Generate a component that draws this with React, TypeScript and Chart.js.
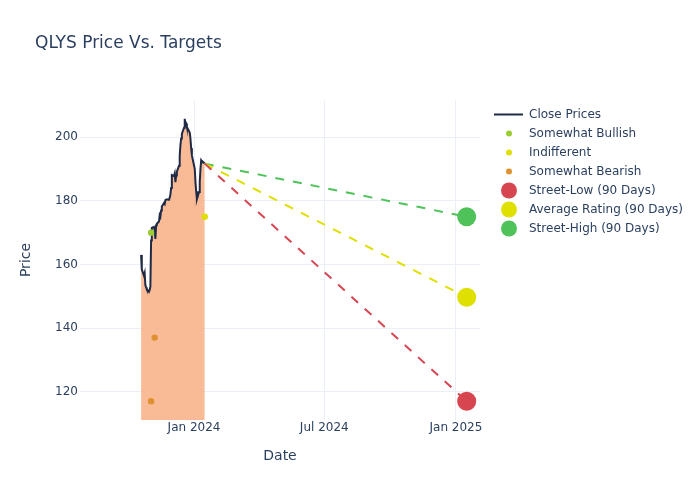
import React, { useEffect, useRef } from "react";
import { Chart, registerables } from "chart.js";

Chart.register(...registerables);

const FONT = '"DejaVu Sans", "Open Sans", Verdana, sans-serif';
const TEXT = "#2a3f5f";
const GRID = "#ebf0f8";

const chartTitle = "QLYS Price Vs. Targets";

const closeDates = [
  "2023-10-19", "2023-10-20", "2023-10-23", "2023-10-24", "2023-10-25", "2023-10-26", "2023-10-27",
  "2023-10-30", "2023-10-31", "2023-11-01", "2023-11-02", "2023-11-03", "2023-11-06", "2023-11-07",
  "2023-11-08", "2023-11-09", "2023-11-10", "2023-11-13", "2023-11-14", "2023-11-15", "2023-11-16",
  "2023-11-17", "2023-11-20", "2023-11-21", "2023-11-22", "2023-11-24", "2023-11-27", "2023-11-28",
  "2023-11-29", "2023-11-30", "2023-12-01", "2023-12-04", "2023-12-05", "2023-12-06", "2023-12-07",
  "2023-12-08", "2023-12-11", "2023-12-12", "2023-12-13", "2023-12-14", "2023-12-15", "2023-12-18",
  "2023-12-19", "2023-12-20", "2023-12-21", "2023-12-22", "2023-12-26", "2023-12-27", "2023-12-28",
  "2023-12-29", "2024-01-02", "2024-01-03", "2024-01-04", "2024-01-05", "2024-01-08", "2024-01-09",
  "2024-01-10", "2024-01-11", "2024-01-12", "2024-01-16",
];
const closePrices = [
  163.0, 158.5, 156.5, 157.3, 153.5, 152.8, 152.2,
  151.4, 152.0, 153.0, 167.5, 171.5, 171.8, 171.0,
  168.0, 172.3, 172.8, 173.5, 175.5, 175.0, 177.0,
  178.2, 179.3, 179.0, 180.2, 180.5, 180.3, 181.0,
  182.0, 184.0, 188.1, 187.8, 188.6, 185.9, 188.0,
  189.2, 191.0, 194.3, 197.5, 199.6, 201.0, 203.0,
  205.8, 204.0, 204.3, 203.2, 201.5, 199.6, 196.5,
  194.3, 190.1, 185.9, 183.0, 180.5, 182.8, 186.0,
  190.1, 192.8, 192.5, 191.7,
];

const bullishDates = ["2023-11-02"];
const bullishPrices = [170];
const indifferentDates = ["2024-01-16"];
const indifferentPrices = [175];
const bearishDates = ["2023-11-02", "2023-11-07"];
const bearishPrices = [117, 137];

const targetDate = "2025-01-16";
const streetLow = 117;
const averageRating = 149.7;
const streetHigh = 175;

const xTickDates = ["2024-01-01", "2024-07-01", "2025-01-01"];
const yTicks = [120, 140, 160, 180, 200];
const xRange = ["2023-07-25T16:00:00Z", "2025-02-03T14:00:00Z"];
const yRange = [111.1, 211.7];

const MONTHS = ["Jan", "Feb", "Mar", "Apr", "May", "Jun", "Jul", "Aug", "Sep", "Oct", "Nov", "Dec"];
const t = (s: string) => Date.parse(s);

const pts = (dates: string[], vals: number[]) => dates.map((d, i) => ({ x: t(d), y: vals[i] }));

export default function App() {
  const ref = useRef<HTMLCanvasElement | null>(null);

  useEffect(() => {
    if (!ref.current) return;
    const lastDate = closeDates[closeDates.length - 1];
    const lastPrice = closePrices[closePrices.length - 1];

    const targetSet = (label: string, value: number, color: string) => ({
      type: "line" as const,
      label,
      data: [
        { x: t(lastDate), y: lastPrice },
        { x: t(targetDate), y: value },
      ],
      borderColor: color,
      backgroundColor: color,
      borderWidth: 2,
      borderDash: [9, 9],
      pointRadius: [0, 9.5],
      pointHoverRadius: [0, 9.5],
      pointBorderWidth: 0,
      fill: false,
      order: 1,
      legendKind: "dot",
      legendRadius: 8,
    });

    const scatterSet = (label: string, dates: string[], vals: number[], color: string) => ({
      type: "line" as const,
      label,
      data: pts(dates, vals),
      showLine: false,
      borderColor: color,
      backgroundColor: color,
      pointRadius: 3.2,
      pointBorderWidth: 0,
      order: 0,
      legendKind: "dot",
      legendRadius: 3,
    });

    const titleLegend = {
      id: "titleLegend",
      afterDraw(chart: any) {
        const { ctx, chartArea } = chart;
        ctx.save();
        ctx.fillStyle = TEXT;
        ctx.font = `17px ${FONT}`;
        ctx.textAlign = "left";
        ctx.textBaseline = "middle";
        ctx.fillText(chartTitle, 35, 44);

        ctx.font = `12px ${FONT}`;
        const x0 = chartArea.right + 14;
        chart.data.datasets.forEach((ds: any, i: number) => {
          const y = 114.5 + i * 19;
          ctx.save();
          if (ds.legendKind === "line") {
            ctx.strokeStyle = ds.borderColor;
            ctx.lineWidth = 2;
            ctx.beginPath();
            ctx.moveTo(x0, y);
            ctx.lineTo(x0 + 29, y);
            ctx.stroke();
          } else {
            ctx.fillStyle = ds.backgroundColor;
            ctx.beginPath();
            ctx.arc(x0 + 15, y, ds.legendRadius, 0, Math.PI * 2);
            ctx.fill();
          }
          ctx.restore();
          ctx.fillStyle = TEXT;
          ctx.fillText(ds.label, x0 + 35, y);
        });
        ctx.restore();
      },
    };

    const chart = new Chart(ref.current, {
      type: "line",
      data: {
        datasets: [
          {
            label: "Close Prices",
            data: pts(closeDates, closePrices),
            borderColor: "#1f2b46",
            backgroundColor: "rgba(247,175,132,0.85)",
            borderWidth: 2,
            pointRadius: 0,
            fill: "start",
            tension: 0,
            order: 10,
            legendKind: "line",
          } as any,
          scatterSet("Somewhat Bullish", bullishDates, bullishPrices, "#9acd32"),
          scatterSet("Indifferent", indifferentDates, indifferentPrices, "#dede00"),
          scatterSet("Somewhat Bearish", bearishDates, bearishPrices, "#df9030"),
          targetSet("Street-Low (90 Days)", streetLow, "#d64550"),
          targetSet("Average Rating (90 Days)", averageRating, "#dfdf00"),
          targetSet("Street-High (90 Days)", streetHigh, "#50c25a"),
        ] as any,
      },
      options: {
        responsive: false,
        animation: false,
        layout: { padding: { top: 100, right: 220, left: 0, bottom: 0 } },
        plugins: {
          legend: { display: false },
          title: { display: false },
          tooltip: { enabled: false },
        },
        scales: {
          x: {
            type: "linear",
            min: t(xRange[0]),
            max: t(xRange[1]),
            afterFit: (s: any) => {
              s.height = 80;
            },
            afterBuildTicks: (s: any) => {
              s.ticks = xTickDates.map((d) => ({ value: t(d) }));
            },
            ticks: {
              padding: 1,
              color: TEXT,
              font: { family: FONT, size: 12 },
              maxRotation: 0,
              autoSkip: false,
              callback: (v: any) => {
                const d = new Date(Number(v));
                return `${MONTHS[d.getUTCMonth()]} ${d.getUTCFullYear()}`;
              },
            },
            grid: { color: GRID, lineWidth: 1, drawTicks: false },
            border: { display: false },
            title: {
              display: true,
              text: "Date",
              color: TEXT,
              font: { family: FONT, size: 14 },
              padding: { top: 0, bottom: 35.6 },
            },
          },
          y: {
            type: "linear",
            min: yRange[0],
            max: yRange[1],
            afterFit: (s: any) => {
              s.width = 80;
            },
            afterBuildTicks: (s: any) => {
              s.ticks = yTicks.map((v) => ({ value: v }));
            },
            ticks: {
              padding: 2,
              color: TEXT,
              font: { family: FONT, size: 12 },
              callback: (v: any) => String(v),
            },
            grid: { color: GRID, lineWidth: 1, drawTicks: false },
            border: { display: false },
            title: {
              display: true,
              text: "Price",
              color: TEXT,
              font: { family: FONT, size: 14 },
              padding: { top: 17.6, bottom: 0 },
            },
          },
        },
      },
      plugins: [titleLegend],
    } as any);

    return () => chart.destroy();
  }, []);

  return (
    <div style={{ position: "fixed", left: 0, top: 0, width: 700, height: 500, background: "#fff" }}>
      <canvas ref={ref} width={700} height={500} style={{ display: "block", width: 700, height: 500 }} />
    </div>
  );
}
